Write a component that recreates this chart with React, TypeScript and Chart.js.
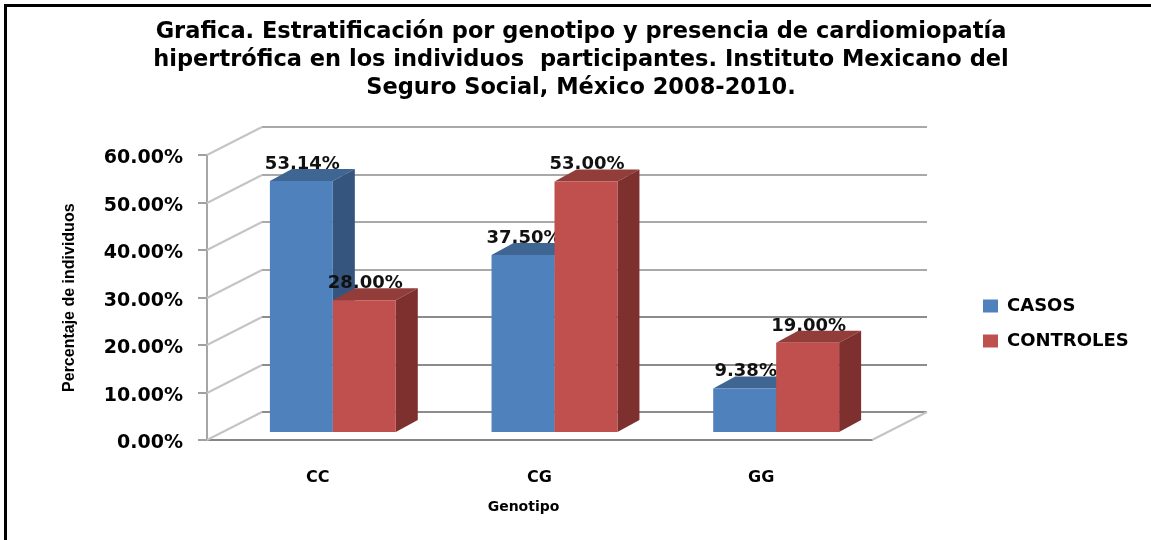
import React, { useEffect, useRef } from "react";
import { Chart, registerables } from "chart.js";

Chart.register(...registerables);

const categories = ["CC", "CG", "GG"];
const casos = [53.14, 37.5, 9.38];
const controles = [28, 53, 19];
const titleLines = [
  "Grafica. Estratificación por genotipo y presencia de cardiomiopatía",
  "hipertrófica en los individuos  participantes. Instituto Mexicano del",
  "Seguro Social, México 2008-2010.",
];
const yTicks = [0, 10, 20, 30, 40, 50, 60];
const faceColors = [
  { front: "#4F81BD", side: "#35557F", top: "#3F6592" },
  { front: "#C0504D", side: "#7D302E", top: "#933D3A" },
];

const FONT = "'DejaVu Sans', sans-serif";
const WALL = { dx: 55, dy: -28 };
const BAR_SHIFT = { dx: 15, dy: -7 };
const BAR_DEPTH = { dx: 22, dy: -12 };

const scene = {
  id: "scene",
  afterLayout(chart: any) {
    const legend = chart.legend;
    legend.left = 966;
    legend.right = 1151;
    legend.top = 280;
    legend.bottom = 400;
    const tb = chart.titleBlock;
    tb.left = 11;
    tb.right = 1151;
    const x = chart.scales.x;
    if (!x.__shifted) {
      const orig = x.drawTitle.bind(x);
      x.drawTitle = () => {
        chart.ctx.save();
        chart.ctx.translate(-16, 0);
        orig();
        chart.ctx.restore();
      };
      x.__shifted = true;
    }
  },
  beforeDraw(chart: any) {
    const { ctx } = chart;
    ctx.save();
    ctx.fillStyle = "#000";
    ctx.fillRect(4, 4, 1147, 3);
    ctx.fillRect(4, 4, 3, 536);
    ctx.restore();
  },
  beforeDatasetsDraw(chart: any) {
    const { ctx, chartArea: a, scales } = chart;
    const y = scales.y;
    ctx.save();
    yTicks.forEach((v) => {
      const py = Math.round(y.getPixelForValue(v));
      ctx.strokeStyle = "#8c8c8c";
      ctx.lineWidth = v === 0 || v === 10 || v === 20 ? 2 : 1.5;
      ctx.beginPath();
      ctx.moveTo(a.left + WALL.dx, py + WALL.dy);
      ctx.lineTo(a.right + WALL.dx, py + WALL.dy);
      ctx.stroke();
      ctx.strokeStyle = "#c4c4c4";
      ctx.lineWidth = 2;
      ctx.beginPath();
      ctx.moveTo(a.left, py);
      ctx.lineTo(a.left + WALL.dx, py + WALL.dy);
      ctx.stroke();
    });
    const p0 = y.getPixelForValue(0);
    ctx.strokeStyle = "#c4c4c4";
    ctx.lineWidth = 2;
    ctx.beginPath();
    ctx.moveTo(a.right, p0);
    ctx.lineTo(a.right + WALL.dx, p0 + WALL.dy);
    ctx.stroke();

    chart.data.datasets.forEach((ds: any, i: number) => {
      const meta = chart.getDatasetMeta(i);
      ctx.save();
      ctx.translate(BAR_SHIFT.dx, BAR_SHIFT.dy);
      // value labels go under the bar of their own series, as in the picture
      ctx.fillStyle = "#111";
      ctx.font = `bold 18px ${FONT}`;
      ctx.textAlign = "center";
      ctx.textBaseline = "middle";
      meta.data.forEach((el: any, j: number) => {
        ctx.fillText(`${ds.data[j].toFixed(2)}%`, el.x + 1, el.y - 17);
      });
      const c = faceColors[i];
      meta.data.forEach((el: any) => {
        const l = el.x - el.width / 2;
        const r = el.x + el.width / 2;
        ctx.fillStyle = c.top;
        ctx.beginPath();
        ctx.moveTo(l, el.y);
        ctx.lineTo(l + BAR_DEPTH.dx, el.y + BAR_DEPTH.dy);
        ctx.lineTo(r + BAR_DEPTH.dx, el.y + BAR_DEPTH.dy);
        ctx.lineTo(r, el.y);
        ctx.closePath();
        ctx.fill();
        ctx.fillStyle = c.side;
        ctx.beginPath();
        ctx.moveTo(r, el.y);
        ctx.lineTo(r + BAR_DEPTH.dx, el.y + BAR_DEPTH.dy);
        ctx.lineTo(r + BAR_DEPTH.dx, el.base + BAR_DEPTH.dy);
        ctx.lineTo(r, el.base);
        ctx.closePath();
        ctx.fill();
      });
      meta.controller.draw();
      ctx.restore();
    });
    ctx.restore();
    return false;
  },
};

export default function App() {
  const ref = useRef<HTMLCanvasElement | null>(null);
  useEffect(() => {
    const chart = new Chart(ref.current as HTMLCanvasElement, {
      type: "bar",
      data: {
        labels: categories,
        datasets: [
          { label: "CASOS", data: casos, backgroundColor: faceColors[0].front, categoryPercentage: 0.568, barPercentage: 1 },
          { label: "CONTROLES", data: controles, backgroundColor: faceColors[1].front, categoryPercentage: 0.568, barPercentage: 1 },
        ],
      },
      options: {
        responsive: false,
        animation: false,
        layout: { padding: { left: 0, right: 279, top: 0, bottom: 0 } },
        plugins: {
          title: {
            display: true,
            text: titleLines,
            color: "#000",
            font: { family: FONT, size: 22.5, weight: "bold", lineHeight: 1.25 },
            padding: { top: 18, bottom: 53 },
          },
          legend: {
            position: "chartArea",
            align: "start",
            labels: {
              boxWidth: 15,
              boxHeight: 13,
              padding: 17,
              color: "#000",
              font: { family: FONT, size: 18, weight: "bold" },
            },
          },
          tooltip: { enabled: false },
        },
        scales: {
          x: {
            afterFit: (s: any) => { s.height = 100; },
            grid: { display: false, drawTicks: false },
            border: { display: true, color: "#868686", width: 2 },
            ticks: { color: "#000", padding: 28, font: { family: FONT, size: 16, weight: "bold" } },
            title: {
              display: true,
              text: "Genotipo",
              color: "#000",
              font: { family: FONT, size: 14, weight: "bold", lineHeight: 1.2 },
              padding: { top: 0, bottom: 24 },
            },
          },
          y: {
            min: 0,
            max: 60,
            afterFit: (s: any) => { s.width = 207; },
            grid: { drawOnChartArea: false, drawTicks: true, tickLength: 9, color: "#a0a0a0", lineWidth: 2 },
            border: { display: true, color: "#a6a6a6", width: 2 },
            ticks: {
              stepSize: 10,
              color: "#000",
              padding: 15,
              labelOffset: 3,
              font: { family: FONT, size: 19, weight: "bold" },
              callback: (v: any) => `${Number(v).toFixed(2)}%`,
            },
            title: {
              display: true,
              text: "Percentaje de individuos",
              color: "#000",
              font: { family: "'Liberation Sans Narrow', 'Liberation Sans', sans-serif", size: 16, weight: "bold", lineHeight: 1.2 },
              padding: { top: 60, bottom: 0 },
            },
          },
        },
      },
      plugins: [scene],
    } as any);
    return () => chart.destroy();
  }, []);
  return (
    <div style={{ position: "fixed", left: 0, top: 0, width: 1151, height: 540, background: "#fff" }}>
      <canvas ref={ref} width={1151} height={540} style={{ display: "block" }} />
    </div>
  );
}
